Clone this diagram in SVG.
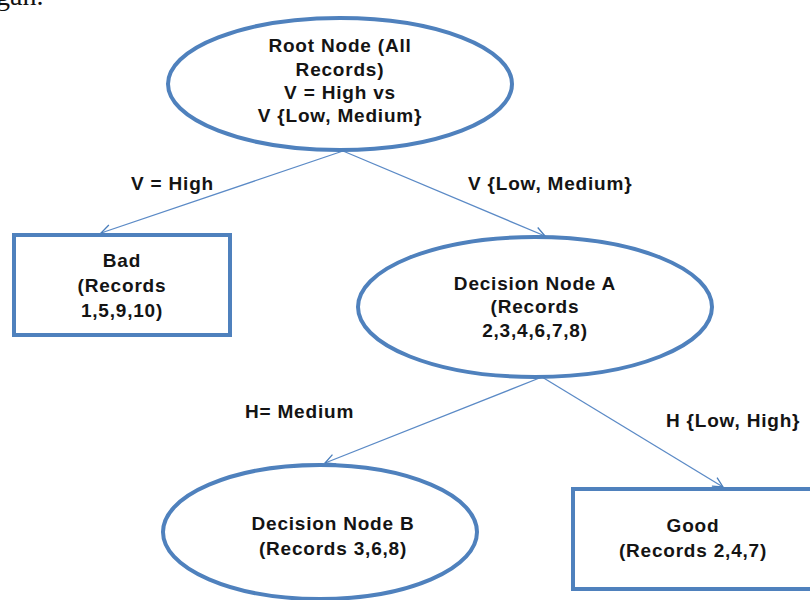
<svg xmlns="http://www.w3.org/2000/svg" width="810" height="600" viewBox="0 0 810 600">
  <defs>
    <marker id="arrow" viewBox="0 0 12 12" refX="11" refY="6" markerWidth="12" markerHeight="12" markerUnits="userSpaceOnUse" orient="auto">
      <polyline points="1,1 11,6 1,11" fill="none" stroke="#4a7ebb" stroke-width="1.3"/>
    </marker>
    <style>
      .shape { fill: #ffffff; stroke: #4f81bd; stroke-width: 4; }
      .edge { fill: none; stroke: #5b8ac6; stroke-width: 1.3; marker-end: url(#arrow); }
      .t, .lbl { font-family: "Liberation Sans", Arial, sans-serif; font-weight: bold; font-size: 19px; letter-spacing: 0.8px; fill: #141414; }
      .t { text-anchor: middle; }
    </style>
  </defs>

  <rect width="810" height="600" fill="#ffffff"/>

  <!-- running text above the figure -->
  <text x="-4" y="5" font-family="Liberation Serif, serif" font-size="28" fill="#111">gan.</text>

  <!-- connectors -->
  <g id="connectors">
    <line class="edge" x1="343" y1="151" x2="101" y2="233"/>
    <line class="edge" x1="343" y1="151" x2="545" y2="236"/>
    <line class="edge" x1="542" y1="377" x2="325" y2="463"/>
    <line class="edge" x1="542" y1="377" x2="723" y2="487"/>
    <text class="lbl" x="131" y="190">V = High</text>
    <text class="lbl" x="468" y="190">V {Low, Medium}</text>
    <text class="lbl" x="245" y="418">H= Medium</text>
    <text class="lbl" x="666" y="427">H {Low, High}</text>
  </g>

  <g id="root">
    <ellipse class="shape" cx="340" cy="84" rx="172" ry="66"/>
    <text class="t" x="340" y="52">Root Node (All</text>
    <text class="t" x="340" y="76">Records)</text>
    <text class="t" x="340" y="99">V = High vs</text>
    <text class="t" x="340" y="122">V {Low, Medium}</text>
  </g>

  <g id="bad">
    <rect class="shape" x="14" y="235" width="216" height="100"/>
    <text class="t" x="122" y="267">Bad</text>
    <text class="t" x="122" y="292">(Records</text>
    <text class="t" x="122" y="317">1,5,9,10)</text>
  </g>

  <g id="decisionA">
    <ellipse class="shape" cx="535" cy="307" rx="177" ry="70"/>
    <text class="t" x="535" y="290">Decision Node A</text>
    <text class="t" x="535" y="313">(Records</text>
    <text class="t" x="535" y="337">2,3,4,6,7,8)</text>
  </g>

  <g id="decisionB">
    <ellipse class="shape" cx="320" cy="532" rx="157" ry="67"/>
    <text class="t" x="333" y="530">Decision Node B</text>
    <text class="t" x="333" y="555">(Records 3,6,8)</text>
  </g>

  <g id="good">
    <rect class="shape" x="573" y="489" width="250" height="100"/>
    <text class="t" x="693" y="532">Good</text>
    <text class="t" x="693" y="557">(Records 2,4,7)</text>
  </g>
</svg>
